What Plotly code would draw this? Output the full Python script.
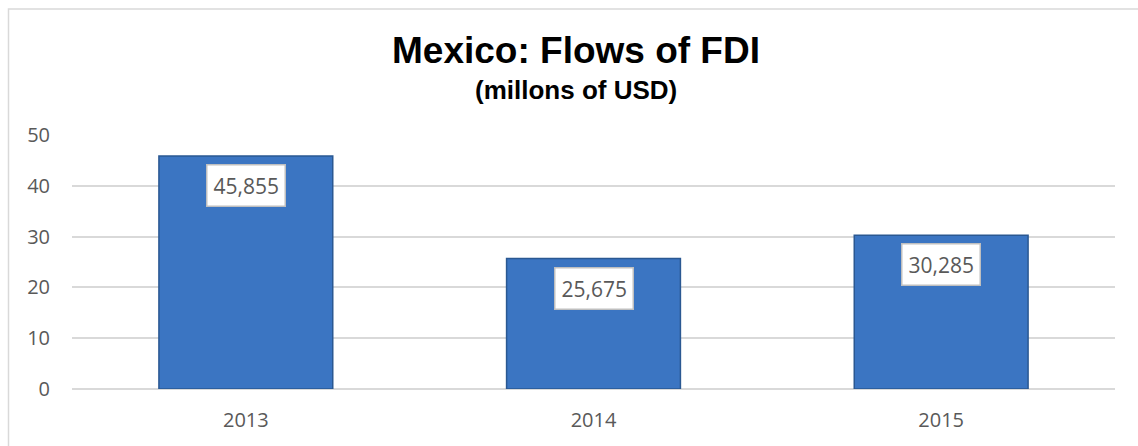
import plotly.graph_objects as go

# Mexico FDI inflows, billions shown on the axis, millions in the labels
years = ["2013", "2014", "2015"]
fdi_values = [45.855, 25.675, 30.285]
value_labels = ["45,855", "25,675", "30,285"]
y_ticks = [0, 10, 20, 30, 40, 50]

W, H = 1138, 446
ML, MR, MT, MB = 72, 23, 135, 57
PW, PH = W - ML - MR, H - MT - MB


def px_x(px):
    return (px - ML) / PW


def px_y(py):
    return (H - MB - py) / PH


fig = go.Figure()
fig.add_trace(go.Bar(
    x=years,
    y=fdi_values,
    marker=dict(color="#3B75C2", line=dict(color="#2A5892", width=1.5)),
    hoverinfo="skip",
))

# value labels in white boxes just under each bar top
# (category axis: annotation x given as the category index)
for idx, (val, lab) in enumerate(zip(fdi_values, value_labels)):
    fig.add_annotation(
        x=idx, y=val, xref="x", yref="y",
        text=lab, showarrow=False,
        yanchor="top", yshift=-8,
        bgcolor="white", bordercolor="#BFBFBF", borderwidth=1.5, borderpad=6,
        font=dict(family="Open Sans", size=21, color="#595959"),
    )

# title and subtitle
fig.add_annotation(
    x=px_x(576), y=px_y(51), xref="paper", yref="paper",
    text="<b>Mexico: Flows of FDI</b>", showarrow=False,
    xanchor="center", yanchor="middle",
    font=dict(family="Liberation Sans, Arial", size=37, color="#000000"),
)
fig.add_annotation(
    x=px_x(576), y=px_y(90), xref="paper", yref="paper",
    text="<b>(millons of USD)</b>", showarrow=False,
    xanchor="center", yanchor="middle",
    font=dict(family="Liberation Sans, Arial", size=26, color="#000000"),
)

# chart frame
fig.add_shape(
    type="rect", xref="paper", yref="paper",
    x0=px_x(8.5), x1=px_x(W + 20), y0=px_y(H + 20), y1=px_y(9),
    line=dict(color="#D9D9D9", width=1.5), fillcolor="rgba(0,0,0,0)",
    layer="below",
)

fig.update_layout(
    width=W, height=H,
    margin=dict(l=ML, r=MR, t=MT, b=MB, pad=0),
    paper_bgcolor="white", plot_bgcolor="white",
    bargap=0.5,
    showlegend=False,
    font=dict(family="Open Sans", size=20, color="#595959"),
)
fig.update_xaxes(
    type="category", range=[-0.5, len(years) - 0.5],
    showgrid=False, showline=False, zeroline=False, ticks="",
    tickfont=dict(family="Open Sans", size=20, color="#595959"),
    ticklabelstandoff=17,
)
fig.update_yaxes(
    range=[0, 50], tickvals=y_ticks, showline=False,
    showgrid=True, gridcolor="#D9D9D9", gridwidth=1.5,
    zeroline=True, zerolinecolor="#D9D9D9", zerolinewidth=1.5,
    ticks="", tickfont=dict(family="Open Sans", size=20, color="#595959"),
    ticklabelstandoff=21,
)

fig.write_html("out.html")
